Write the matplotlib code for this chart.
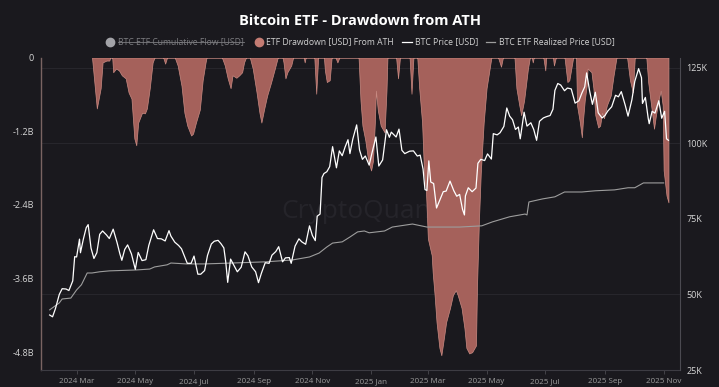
import matplotlib
matplotlib.use("Agg")
import matplotlib.pyplot as plt
import matplotlib.transforms as mtransforms
from matplotlib.lines import Line2D
import pandas as pd

plt.rcParams['font.family'] = ['Open Sans', 'DejaVu Sans']

# ---------------- data ----------------
btc_dates = [
    '2024-02-02', '2024-02-05', '2024-02-08', '2024-02-12', '2024-02-15', '2024-02-19', '2024-02-22', '2024-02-26', '2024-02-28',
    '2024-03-01', '2024-03-04', '2024-03-05', '2024-03-08', '2024-03-11', '2024-03-13', '2024-03-16', '2024-03-19', '2024-03-22', '2024-03-25', '2024-03-28',
    '2024-04-01', '2024-04-04', '2024-04-08', '2024-04-12', '2024-04-15', '2024-04-17', '2024-04-20', '2024-04-23', '2024-04-27',
    '2024-05-01', '2024-05-04', '2024-05-08', '2024-05-12', '2024-05-15', '2024-05-20', '2024-05-24', '2024-05-28',
    '2024-06-01', '2024-06-05', '2024-06-07', '2024-06-11', '2024-06-15', '2024-06-18', '2024-06-24', '2024-06-28',
    '2024-07-01', '2024-07-05', '2024-07-08', '2024-07-12', '2024-07-15', '2024-07-19', '2024-07-22', '2024-07-26', '2024-07-29',
    '2024-08-01', '2024-08-03', '2024-08-05', '2024-08-08', '2024-08-12', '2024-08-15', '2024-08-19', '2024-08-23', '2024-08-26', '2024-08-30',
    '2024-09-03', '2024-09-06', '2024-09-09', '2024-09-13', '2024-09-17', '2024-09-20', '2024-09-24', '2024-09-27',
    '2024-10-01', '2024-10-04', '2024-10-08', '2024-10-10', '2024-10-14', '2024-10-18', '2024-10-21', '2024-10-25', '2024-10-29',
    '2024-11-01', '2024-11-04', '2024-11-06', '2024-11-09', '2024-11-11', '2024-11-13', '2024-11-16', '2024-11-19', '2024-11-22', '2024-11-26', '2024-11-29',
    '2024-12-02', '2024-12-05', '2024-12-08', '2024-12-10', '2024-12-13', '2024-12-17', '2024-12-20', '2024-12-23', '2024-12-26', '2024-12-30',
    '2025-01-02', '2025-01-06', '2025-01-09', '2025-01-13', '2025-01-17', '2025-01-20', '2025-01-22', '2025-01-27', '2025-01-30',
    '2025-02-02', '2025-02-05', '2025-02-10', '2025-02-14', '2025-02-18', '2025-02-21', '2025-02-24', '2025-02-26', '2025-02-28',
    '2025-03-02', '2025-03-04', '2025-03-07', '2025-03-10', '2025-03-13', '2025-03-17', '2025-03-20', '2025-03-24', '2025-03-28', '2025-03-31',
    '2025-04-03', '2025-04-06', '2025-04-08', '2025-04-09', '2025-04-12', '2025-04-16', '2025-04-20', '2025-04-22', '2025-04-25', '2025-04-29',
    '2025-05-02', '2025-05-06', '2025-05-08', '2025-05-12', '2025-05-15', '2025-05-19', '2025-05-22', '2025-05-25', '2025-05-28', '2025-05-31',
    '2025-06-03', '2025-06-05', '2025-06-09', '2025-06-12', '2025-06-16', '2025-06-19', '2025-06-22', '2025-06-25', '2025-06-29',
    '2025-07-02', '2025-07-06', '2025-07-09', '2025-07-11', '2025-07-14', '2025-07-17', '2025-07-21', '2025-07-24', '2025-07-28',
    '2025-08-01', '2025-08-05', '2025-08-08', '2025-08-11', '2025-08-13', '2025-08-16', '2025-08-19', '2025-08-22', '2025-08-25', '2025-08-29',
    '2025-09-01', '2025-09-04', '2025-09-08', '2025-09-12', '2025-09-15', '2025-09-18', '2025-09-22', '2025-09-25', '2025-09-29',
    '2025-10-02', '2025-10-06', '2025-10-09', '2025-10-10', '2025-10-13', '2025-10-16', '2025-10-17', '2025-10-20', '2025-10-23', '2025-10-27', '2025-10-30',
    '2025-11-02', '2025-11-04', '2025-11-06',
]
btc_price_k = [
    43.2, 42.6, 45.3, 50.0, 51.9, 51.8, 51.3, 54.5, 62.5,
    62.4, 68.3, 63.8, 68.3, 72.1, 73.1, 65.3, 61.9, 63.8, 69.9, 71.0,
    69.7, 68.5, 71.6, 67.2, 63.4, 61.3, 64.9, 66.4, 63.4,
    58.3, 63.9, 61.2, 61.5, 66.2, 71.4, 68.5, 68.4,
    67.7, 71.1, 69.3, 67.3, 66.2, 65.1, 60.3, 60.3,
    62.7, 56.7, 56.7, 57.9, 62.9, 66.7, 67.6, 67.9, 66.8,
    65.4, 60.7, 54.0, 61.7, 59.3, 57.5, 59.0, 64.1, 62.8, 59.1,
    57.5, 53.9, 57.0, 60.5, 60.3, 63.0, 64.2, 65.8,
    60.8, 62.1, 62.2, 60.3, 66.0, 68.4, 67.4, 66.6, 72.7,
    69.5, 67.8, 75.9, 76.6, 88.7, 90.0, 90.6, 92.3, 98.9, 91.9, 97.5,
    95.9, 98.8, 101.2, 96.6, 101.4, 106.1, 97.8, 94.7, 95.8, 92.8,
    96.9, 102.1, 92.5, 94.5, 104.5, 102.0, 103.7, 102.1, 104.7,
    97.7, 96.6, 97.4, 97.5, 95.8, 96.1, 91.5, 84.7, 84.4,
    94.2, 87.2, 86.7, 78.6, 80.9, 84.0, 84.2, 87.5, 84.3, 82.5,
    83.1, 78.2, 76.3, 82.6, 85.3, 84.0, 85.2, 93.4, 94.7, 94.3,
    96.5, 94.8, 103.2, 102.8, 103.5, 105.6, 111.7, 109.0, 107.8, 104.6,
    105.4, 101.5, 110.3, 105.7, 106.8, 104.6, 101.0, 107.3, 108.4,
    108.8, 109.2, 111.3, 117.5, 119.8, 119.3, 117.4, 118.3, 118.0,
    113.3, 114.1, 116.6, 118.7, 123.3, 117.5, 112.9, 116.9, 110.1, 108.4,
    109.2, 110.7, 112.1, 115.9, 115.4, 117.1, 112.7, 109.0, 114.4,
    120.5, 124.7, 121.7, 113.2, 115.2, 108.2, 106.5, 110.6, 110.0, 114.1, 108.3,
    110.6, 101.5, 101.0,
]

realized_dates = [
    '2024-02-02', '2024-02-12', '2024-02-15', '2024-02-24', '2024-03-01', '2024-03-06', '2024-03-12', '2024-03-17',
    '2024-03-25', '2024-04-04', '2024-05-02', '2024-05-16', '2024-05-21', '2024-06-03', '2024-06-07', '2024-06-23',
    '2024-07-12', '2024-08-10', '2024-09-14', '2024-10-11', '2024-10-29', '2024-11-08', '2024-11-16', '2024-11-22',
    '2024-12-02', '2024-12-10', '2024-12-18', '2024-12-25', '2024-12-30', '2025-01-15', '2025-01-23', '2025-02-13',
    '2025-02-28', '2025-04-03', '2025-04-26', '2025-05-07', '2025-05-25', '2025-06-10', '2025-06-12', '2025-06-14',
    '2025-06-28', '2025-07-11', '2025-07-21', '2025-08-08', '2025-08-22', '2025-09-11', '2025-09-25', '2025-10-02',
    '2025-10-11', '2025-11-01',
]
realized_price_k = [
    44.9, 47.2, 48.5, 48.8, 51.5, 53.2, 57.1, 57.1,
    57.5, 57.8, 58.1, 58.4, 59.1, 59.8, 60.4, 60.1,
    60.1, 60.4, 60.8, 61.4, 62.4, 63.7, 65.7, 67.0,
    67.4, 69.0, 70.7, 71.0, 70.4, 71.0, 72.3, 73.3,
    72.3, 72.3, 72.7, 74.0, 75.7, 76.6, 76.3, 80.6,
    81.6, 82.3, 83.9, 83.9, 84.3, 84.6, 85.3, 85.3,
    86.9, 86.9,
]

drawdown_dates = [
    '2024-03-17', '2024-03-22', '2024-03-26', '2024-03-28', '2024-04-01', '2024-04-04', '2024-04-05',
    '2024-04-07', '2024-04-08', '2024-04-11', '2024-04-14', '2024-04-17', '2024-04-21', '2024-04-24', '2024-04-27',
    '2024-04-30', '2024-05-02', '2024-05-04', '2024-05-08', '2024-05-11', '2024-05-13', '2024-05-16', '2024-05-19', '2024-05-21',
    '2024-05-30', '2024-06-01', '2024-06-03',
    '2024-06-11', '2024-06-14', '2024-06-18', '2024-06-21', '2024-06-24', '2024-06-28', '2024-06-30', '2024-07-03',
    '2024-07-07', '2024-07-10', '2024-07-13', '2024-07-14',
    '2024-07-30', '2024-08-02', '2024-08-05', '2024-08-08', '2024-08-10', '2024-08-14', '2024-08-17', '2024-08-20', '2024-08-22', '2024-08-24',
    '2024-08-28', '2024-08-31', '2024-09-04', '2024-09-07', '2024-09-09', '2024-09-12', '2024-09-15', '2024-09-19', '2024-09-23', '2024-09-26',
    '2024-10-01', '2024-10-02', '2024-10-04', '2024-10-06', '2024-10-10', '2024-10-12',
    '2024-10-23', '2024-10-24', '2024-10-25',
    '2024-11-03', '2024-11-05', '2024-11-07',
    '2024-11-13', '2024-11-14', '2024-11-16', '2024-11-19', '2024-11-21',
    '2024-11-25', '2024-11-27', '2024-11-29',
    '2024-12-19', '2024-12-21', '2024-12-23', '2024-12-26', '2024-12-29', '2025-01-01', '2025-01-03', '2025-01-05',
    '2025-01-06', '2025-01-08', '2025-01-11', '2025-01-15', '2025-01-17', '2025-01-18',
    '2025-01-27', '2025-01-29', '2025-01-31',
    '2025-02-10', '2025-02-12', '2025-02-14',
    '2025-02-18', '2025-02-20', '2025-02-23', '2025-02-25', '2025-02-27', '2025-03-01', '2025-03-05', '2025-03-06',
    '2025-03-08', '2025-03-10', '2025-03-13', '2025-03-15', '2025-03-17', '2025-03-20', '2025-03-24', '2025-03-27',
    '2025-03-30', '2025-04-01', '2025-04-05', '2025-04-08', '2025-04-10', '2025-04-13', '2025-04-16', '2025-04-20',
    '2025-04-21', '2025-04-23', '2025-04-25', '2025-04-28', '2025-05-01', '2025-05-06',
    '2025-05-13', '2025-05-16', '2025-05-18',
    '2025-05-30', '2025-06-01', '2025-06-04', '2025-06-06', '2025-06-09', '2025-06-13', '2025-06-15',
    '2025-06-17', '2025-06-18', '2025-06-19',
    '2025-06-29', '2025-07-01', '2025-07-02',
    '2025-07-09', '2025-07-10', '2025-07-12',
    '2025-07-21', '2025-07-24', '2025-07-26', '2025-07-30',
    '2025-08-02', '2025-08-03', '2025-08-06', '2025-08-08', '2025-08-09', '2025-08-11', '2025-08-13', '2025-08-14',
    '2025-08-18', '2025-08-20', '2025-08-22', '2025-08-25', '2025-08-27', '2025-08-29', '2025-08-31', '2025-09-03',
    '2025-09-07', '2025-09-10', '2025-09-13',
    '2025-09-24', '2025-09-27', '2025-09-30', '2025-10-02',
    '2025-10-14', '2025-10-16', '2025-10-19', '2025-10-22', '2025-10-24', '2025-10-27', '2025-10-29', '2025-10-31',
    '2025-11-01', '2025-11-04', '2025-11-06',
]
drawdown_b = [
    0, -0.83, -0.50, -0.08, -0.05, -0.05, 0,
    0, -0.24, -0.18, -0.21, -0.29, -0.34, -0.57, -0.67,
    -1.32, -1.43, -1.06, -0.90, -0.91, -0.83, -0.50, -0.08, 0,
    0, -0.10, 0,
    0, -0.13, -0.46, -0.90, -1.11, -1.27, -1.24, -1.06,
    -0.85, -0.37, -0.08, 0,
    0, -0.13, -0.34, -0.50, -0.29, -0.33, -0.29, -0.24, -0.08, 0,
    0, -0.18, -0.57, -0.90, -1.06, -0.83, -0.62, -0.41, -0.18, 0,
    0, -0.08, -0.34, -0.24, -0.13, 0,
    0, -0.08, 0,
    0, -0.59, 0,
    0, -0.21, -0.40, -0.37, 0,
    0, -0.08, 0,
    0, -0.70, -1.11, -1.35, -1.68, -1.84, -1.68, -1.03,
    -0.54, -0.86, -1.11, -1.22, -0.54, 0,
    0, -0.34, 0,
    0, -0.59, 0,
    0, -0.50, -1.06, -1.87, -2.16, -2.95, -3.22, -3.50,
    -3.87, -4.31, -4.73, -4.85, -4.64, -4.31, -4.08, -3.87,
    -3.79, -3.87, -4.08, -4.41, -4.73, -4.82, -4.80, -4.69,
    -3.76, -2.68, -1.87, -1.06, -0.50, 0,
    0, -0.15, 0,
    0, -0.50, -0.78, -0.94, -0.70, -0.18, 0,
    0, -0.08, 0,
    0, -0.21, 0,
    0, -0.13, 0,
    0, -0.40, -0.37, 0,
    0, -0.78, -1.06, -1.30, -1.06, -0.70, -0.46, -0.18,
    -0.24, -0.50, -0.94, -1.14, -1.11, -0.90, -0.99, -0.78,
    -0.62, -0.29, 0,
    0, -0.37, -0.57, 0,
    0, -0.41, -0.78, -1.16, -0.94, -0.67, -0.54, -0.78,
    -1.84, -2.25, -2.36,
]

left_ticks = [0, -1.2, -2.4, -3.6, -4.8]
left_labels = ['0', '-1.2B', '-2.4B', '-3.6B', '-4.8B']
right_ticks = [25, 50, 75, 100, 125]
right_labels = ['25K', '50K', '75K', '100K', '125K']
grid_levels_k = [50, 100, 125]
x_tick_dates = ['2024-03-01', '2024-05-01', '2024-07-01', '2024-09-01', '2024-11-01', '2025-01-01',
                '2025-03-01', '2025-05-01', '2025-07-01', '2025-09-01', '2025-11-01']
x_tick_labels = ['2024 Mar', '2024 May', '2024 Jul', '2024 Sep', '2024 Nov', '2025 Jan',
                 '2025 Mar', '2025 May', '2025 Jul', '2025 Sep', '2025 Nov']
title = 'Bitcoin ETF - Drawdown from ATH'
legend_labels = ['BTC ETF Cumulative Flow [USD]', 'ETF Drawdown [USD] From ATH',
                 'BTC Price [USD]', 'BTC ETF Realized Price [USD]']

# ---------------- style ----------------
BG = '#1a191e'
FILL = '#a5615b'
FILL_EDGE = '#c98a82'
W, H = 719, 387


def fx(px):
    return px / W


def fy(py):
    return 1 - py / H


fig = plt.figure(figsize=(W / 100, H / 100), dpi=100, facecolor=BG)
ax = fig.add_axes([fx(41), fy(370), fx(680) - fx(41), fy(57.5) - fy(370)])
ax.set_facecolor(BG)
ax2 = ax.twinx()

bd = pd.to_datetime(btc_dates)
rd = pd.to_datetime(realized_dates)
dd = pd.to_datetime(drawdown_dates)

ax.set_xlim(pd.Timestamp('2024-01-24'), pd.Timestamp('2025-11-18'))
ax.set_ylim(-5.09, 0)
ax2.set_ylim(25, 128.4)

# gridlines (right-axis levels), drawn beneath the fill
blend = mtransforms.blended_transform_factory(ax.transAxes, ax2.transData)
for v in grid_levels_k:
    ax.plot([0, 1], [v, v], transform=blend, color='#28272d', lw=0.7, zorder=0.5)

# watermark
ax.text(0.50, 0.506, 'CryptoQuant', transform=ax.transAxes, ha='center', va='center',
        fontsize=19, color='#25242a', zorder=0.6)

ax.fill_between(dd, drawdown_b, 0, facecolor=FILL, edgecolor=FILL_EDGE, linewidth=0.5, zorder=2)

ax2.plot(rd, realized_price_k, color='#9d9d9d', lw=0.8, zorder=3)
ax2.plot(bd, btc_price_k, color='#ffffff', lw=0.9, zorder=4)

# axes styling
for s in ['top', 'right']:
    ax.spines[s].set_visible(False)
ax.spines['left'].set_color('#7a6462')
ax.spines['left'].set_linewidth(1.0)
ax.spines['bottom'].set_color('#3d3c43')
ax.spines['bottom'].set_linewidth(0.8)
for s in ['top', 'left', 'bottom']:
    ax2.spines[s].set_visible(False)
ax2.spines['right'].set_color('#4b4a51')
ax2.spines['right'].set_linewidth(0.8)

ax.set_yticks(left_ticks)
ax.set_yticklabels(left_labels)
ax.tick_params(axis='y', length=0, pad=5, labelsize=6.5, labelcolor='#d6d6d6')
ax2.set_yticks(right_ticks)
ax2.set_yticklabels(right_labels)
ax2.tick_params(axis='y', length=0, pad=4.5, labelsize=6.5, labelcolor='#d6d6d6')

ax.set_xticks(pd.to_datetime(x_tick_dates))
ax.set_xticklabels(x_tick_labels)
ax.tick_params(axis='x', length=3, width=0.6, color='#4a4950', pad=3, labelsize=5.8, labelcolor='#9c9c9c')

# title
fig.text(fx(360), fy(21), title, ha='center', va='center', fontsize=10.5,
         fontweight='bold', color='#ffffff')

# manual legend
LY = fy(42)
fig.add_artist(Line2D([fx(110)], [LY], marker='o', markersize=6, color='#a3a3a8',
                      linestyle='none', transform=fig.transFigure))
t0 = fig.text(fx(118), LY, legend_labels[0], ha='left', va='center', fontsize=6.2, color='#7c7c80')
fig.add_artist(Line2D([fx(259)], [LY], marker='o', markersize=6, color='#c47c73',
                      linestyle='none', transform=fig.transFigure))
fig.text(fx(266), LY, legend_labels[1], ha='left', va='center', fontsize=6.2, color='#d2d2d2')
fig.add_artist(Line2D([fx(402), fx(412)], [LY, LY], color='#ffffff', lw=0.9, transform=fig.transFigure))
fig.text(fx(415), LY, legend_labels[2], ha='left', va='center', fontsize=6.2, color='#d2d2d2')
fig.add_artist(Line2D([fx(486), fx(495)], [LY, LY], color='#9d9d9d', lw=0.9, transform=fig.transFigure))
fig.text(fx(499), LY, legend_labels[3], ha='left', va='center', fontsize=6.2, color='#d2d2d2')

# strike-through for the hidden series
fig.canvas.draw()
bb = t0.get_window_extent(renderer=fig.canvas.get_renderer())
fig.add_artist(Line2D([bb.x0 / W, bb.x1 / W], [LY, LY], color='#7c7c80', lw=0.6,
                      transform=fig.transFigure))

fig.savefig('out.png', dpi=100, facecolor=BG)
